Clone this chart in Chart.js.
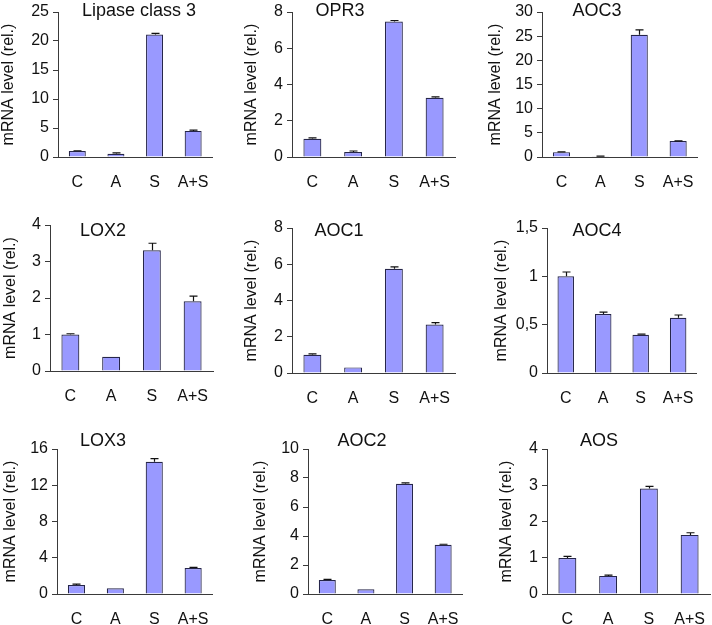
<!DOCTYPE html>
<html>
<head>
<meta charset="utf-8">
<script src="https://cdn.jsdelivr.net/npm/chart.js@4"></script>
<style>
  body { margin: 0; background: #fff; }
  #wrap { position: relative; width: 712px; height: 625px; overflow: hidden; }
  #wrap canvas { position: absolute; }
</style>
</head>
<body>
<div id="wrap"></div>
<script>
const CATEGORIES = ["C", "A", "S", "A+S"];

const lipaseValues = [1.03, 0.55, 21.1, 4.5];
const lipaseErrors = [0.05, 0.15, 0.2, 0.12];
const opr3Values = [1.01, 0.28, 7.48, 3.27];
const opr3Errors = [0.05, 0.05, 0.05, 0.05];
const aoc3Values = [1.0, 0.15, 25.3, 3.3];
const aoc3Errors = [0.05, 0.03, 1.0, 0.05];
const lox2Values = [1.0, 0.39, 3.31, 1.91];
const lox2Errors = [0.02, 0, 0.19, 0.14];
const aoc1Values = [1.01, 0.31, 5.75, 2.67];
const aoc1Errors = [0.04, 0, 0.11, 0.11];
const aoc4Values = [1.0, 0.61, 0.395, 0.572];
const aoc4Errors = [0.045, 0.02, 0.007, 0.028];
const lox3Values = [1.0, 0.63, 14.6, 2.86];
const lox3Errors = [0.1, 0, 0.33, 0.08];
const aoc2Values = [0.97, 0.32, 7.6, 3.39];
const aoc2Errors = [0.04, 0, 0.07, 0.04];
const aosValues = [0.99, 0.5, 2.91, 1.63];
const aosErrors = [0.05, 0.02, 0.06, 0.06];

const GENES = ["Lipase class 3", "OPR3", "AOC3", "LOX2", "AOC1", "AOC4", "LOX3", "AOC2", "AOS"];
const SERIES = [lipaseValues, opr3Values, aoc3Values, lox2Values, aoc1Values, aoc4Values, lox3Values, aoc2Values, aosValues];
const ERRORS = [lipaseErrors, opr3Errors, aoc3Errors, lox2Errors, aoc1Errors, aoc4Errors, lox3Errors, aoc2Errors, aosErrors];
const AXIS_MAX = [25, 8, 30, 4, 8, 1.5, 16, 10, 4];
const AXIS_STEP = [5, 2, 5, 1, 2, 0.5, 4, 2, 1];

// page geometry of each panel (axis x, right end, top tick, zero line, label offset, title position)
const LAYOUT = [
  { x: 58, r: 213, t: 12, b: 157, lab: 49, tx: 139, ty: 16 },
  { x: 292, r: 455, t: 12, b: 157, lab: 40, tx: 340, ty: 16 },
  { x: 542, r: 698, t: 12, b: 157, lab: 46, tx: 597, ty: 16 },
  { x: 50, r: 213, t: 225, b: 371, lab: 39, tx: 103, ty: 236 },
  { x: 292, r: 455, t: 228, b: 373, lab: 40, tx: 339, ty: 236 },
  { x: 547, r: 698, t: 228, b: 373, lab: 45, tx: 597, ty: 236 },
  { x: 57, r: 213, t: 449, b: 594, lab: 46, tx: 103, ty: 446 },
  { x: 308, r: 463, t: 449, b: 594, lab: 47, tx: 362, ty: 446 },
  { x: 547, r: 710, t: 449, b: 594, lab: 40, tx: 599, ty: 446 },
];

const FONT = "'Liberation Sans', Arial, sans-serif";
const AXIS_COLOR = "#3a3a3a";
const Y_WIDTH = 62;
const PAD_TOP = 26;
const X_HEIGHT = 34;

Chart.defaults.font.family = FONT;
Chart.defaults.color = "#111";

const errorBars = {
  id: "errorBars",
  afterDatasetsDraw(chart, args, opts) {
    const { ctx } = chart;
    const yScale = chart.scales.y;
    const meta = chart.getDatasetMeta(0);
    const values = chart.data.datasets[0].data;
    ctx.save();
    ctx.strokeStyle = "#111";
    ctx.lineWidth = 1.2;
    meta.data.forEach((bar, i) => {
      const err = opts.errors[i];
      if (!err) return;
      const yTop = yScale.getPixelForValue(values[i] + err);
      const x = Math.round(bar.x) + 0.5;
      ctx.beginPath();
      ctx.moveTo(x, bar.y);
      ctx.lineTo(x, yTop);
      ctx.moveTo(x - 4, yTop);
      ctx.lineTo(x + 4, yTop);
      ctx.stroke();
    });
    ctx.restore();
  },
};

const panelTitle = {
  id: "panelTitle",
  afterDraw(chart, args, opts) {
    const { ctx } = chart;
    ctx.save();
    ctx.font = `18px ${FONT}`;
    ctx.fillStyle = "#111";
    ctx.textAlign = "center";
    ctx.textBaseline = "alphabetic";
    ctx.fillText(opts.text, opts.x, opts.y);
    ctx.restore();
  },
};

function formatTick(value) {
  return String(value).replace(".", ",");
}

function createPanel(i) {
  const p = LAYOUT[i];
  const left = p.x - Y_WIDTH;
  const top = p.t - PAD_TOP;
  const width = Y_WIDTH + (p.r - p.x) + 4;
  const height = PAD_TOP + (p.b - p.t) + X_HEIGHT;

  const canvas = document.createElement("canvas");
  canvas.width = width;
  canvas.height = height;
  canvas.style.left = `${left}px`;
  canvas.style.top = `${top}px`;
  canvas.style.width = `${width}px`;
  canvas.style.height = `${height}px`;
  document.getElementById("wrap").appendChild(canvas);

  return new Chart(canvas, {
    type: "bar",
    data: {
      labels: CATEGORIES,
      datasets: [
        {
          data: SERIES[i],
          backgroundColor: "#9999ff",
          borderColor: "#26264a",
          borderWidth: 1.2,
          borderSkipped: "bottom",
          categoryPercentage: 1,
          barPercentage: 0.44,
        },
      ],
    },
    options: {
      responsive: false,
      animation: false,
      devicePixelRatio: 1,
      layout: { padding: { top: PAD_TOP, right: 4, left: 0, bottom: 0 } },
      plugins: {
        legend: { display: false },
        tooltip: { enabled: false },
        errorBars: { errors: ERRORS[i] },
        panelTitle: { text: GENES[i], x: p.tx - left, y: p.ty - top },
      },
      scales: {
        x: {
          afterFit(scale) { scale.height = X_HEIGHT; },
          grid: { display: false },
          border: { display: true, color: AXIS_COLOR, width: 1 },
          ticks: { font: { size: 16 }, padding: 8, color: "#111", maxRotation: 0 },
        },
        y: {
          min: 0,
          max: AXIS_MAX[i],
          afterFit(scale) { scale.width = Y_WIDTH; },
          grid: { drawOnChartArea: false, drawTicks: true, tickLength: 5, color: AXIS_COLOR },
          border: { display: true, color: AXIS_COLOR, width: 1 },
          ticks: {
            stepSize: AXIS_STEP[i],
            font: { size: 16 },
            padding: 4,
            color: "#111",
            callback: formatTick,
          },
          title: {
            display: true,
            text: "mRNA level (rel.)",
            font: { size: 16 },
            color: "#111",
            padding: { top: Math.max(0, Y_WIDTH - p.lab - 9.6), bottom: 0 },
          },
        },
      },
    },
    plugins: [errorBars, panelTitle],
  });
}

for (let i = 0; i < GENES.length; i++) {
  createPanel(i);
}
</script>
</body>
</html>
